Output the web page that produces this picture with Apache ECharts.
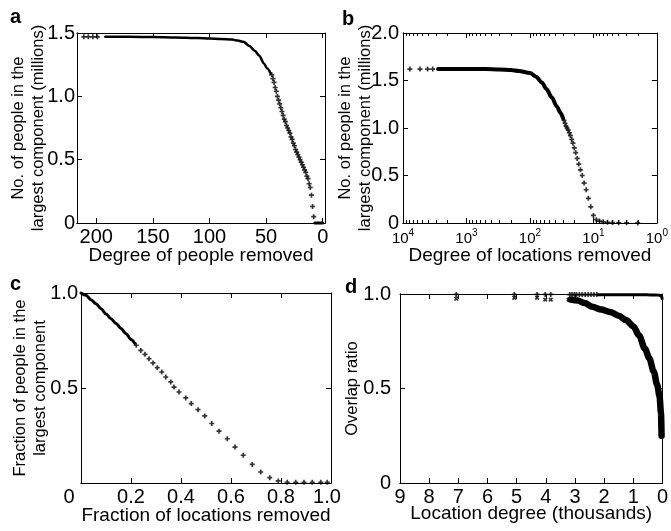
<!DOCTYPE html>
<html>
<head>
<meta charset="utf-8">
<title>Largest component</title>
<script src="https://cdn.jsdelivr.net/npm/echarts@6/dist/echarts.min.js"></script>
<style>
html, body { margin: 0; padding: 0; background: #fff; }
#chart { width: 671px; height: 531px; }
</style>
</head>
<body>
<div id="chart"></div>
<script>
// a: degree of people removed vs people in largest component (millions)
var aDenseX = [192, 170, 150, 130, 110, 100, 90, 80, 75, 70, 65, 60, 56, 52, 49, 46];
var aDenseY = [1.47, 1.47, 1.468, 1.465, 1.46, 1.457, 1.453, 1.448, 1.44, 1.43, 1.40, 1.36, 1.32, 1.26, 1.22, 1.18];
var aSparseX = [211, 207, 203, 199, 45, 44, 43, 42, 41, 40, 39, 38, 37, 36, 35, 34, 33, 32, 31, 30, 29, 28, 27, 26, 25, 24, 23, 22, 21, 20, 19, 18, 17, 16, 15, 14, 13, 12, 11, 10, 9, 8];
var aSparseY = [1.47, 1.47, 1.47, 1.47, 1.17, 1.14, 1.11, 1.07, 1.04, 1.00, 0.97, 0.94, 0.91, 0.88, 0.85, 0.82, 0.80, 0.77, 0.75, 0.73, 0.71, 0.68, 0.66, 0.63, 0.61, 0.58, 0.56, 0.54, 0.52, 0.50, 0.48, 0.46, 0.44, 0.42, 0.40, 0.37, 0.35, 0.31, 0.28, 0.22, 0.13, 0.05];
var aZeroX = [7, 5, 3, 1, 0];
var aZeroY = [0, 0, 0, 0, 0];

// b: degree of locations removed (log) vs people in largest component (millions)
var bDenseX = [2800, 2000, 1000, 500, 300, 200, 150, 100, 80, 65, 55, 45, 38, 33, 30];
var bDenseY = [1.62, 1.62, 1.62, 1.62, 1.615, 1.61, 1.60, 1.58, 1.54, 1.48, 1.41, 1.32, 1.23, 1.16, 1.10];
var bSparseX = [7800, 5400, 4100, 3400, 29, 28, 27, 26, 25, 24, 23, 22, 21, 20, 19, 18, 17, 16, 15, 14, 13, 12, 11, 10, 9, 8, 7, 6, 5, 4, 3, 2];
var bSparseY = [1.62, 1.62, 1.62, 1.62, 1.08, 1.05, 1.02, 1.00, 0.98, 0.95, 0.92, 0.88, 0.84, 0.79, 0.74, 0.68, 0.62, 0.56, 0.50, 0.42, 0.35, 0.26, 0.17, 0.08, 0.035, 0.02, 0.012, 0.008, 0.005, 0.003, 0.002, 0.001];

// c: fraction of locations removed vs fraction of people in largest component
var cDenseX = [0, 0.02, 0.04, 0.06, 0.08, 0.10, 0.12, 0.14, 0.16, 0.18, 0.20, 0.215];
var cDenseY = [1.0, 0.988, 0.965, 0.944, 0.917, 0.89, 0.865, 0.84, 0.813, 0.786, 0.755, 0.735];
var cSparseX = [0.221, 0.239, 0.256, 0.272, 0.288, 0.305, 0.323, 0.339, 0.359, 0.372, 0.392, 0.419, 0.441, 0.468, 0.495, 0.523, 0.552, 0.585, 0.616, 0.649, 0.685, 0.719, 0.755, 0.789, 0.825, 0.859, 0.892, 0.925, 0.959, 0.985];
var cSparseY = [0.725, 0.698, 0.677, 0.654, 0.632, 0.607, 0.584, 0.558, 0.532, 0.505, 0.479, 0.448, 0.418, 0.386, 0.353, 0.313, 0.273, 0.233, 0.189, 0.146, 0.098, 0.058, 0.028, 0.011, 0.004, 0.004, 0.004, 0.004, 0.004, 0.004];

// d: location degree (thousands) vs overlap ratio, two series
var dTopDenseX = [2.2, 1.8, 1.4, 1.0, 0.7, 0.4, 0.2, 0.08, 0.03, 0.01];
var dTopDenseY = [0.996, 0.996, 0.996, 0.996, 0.996, 0.995, 0.995, 0.993, 0.988, 0.975];
var dTopSparseX = [7.07, 5.08, 4.30, 4.02, 3.83, 3.18, 3.10, 3.02, 2.95, 2.85, 2.75, 2.65, 2.55, 2.45, 2.35, 2.25];
var dTopSparseY = [0.998, 0.998, 0.998, 0.998, 0.998, 0.997, 0.997, 0.997, 0.997, 0.997, 0.997, 0.997, 0.997, 0.997, 0.997, 0.997];
var dLowDenseX = [3.15, 2.9, 2.67, 2.4, 2.1, 1.8, 1.5, 1.25, 1.0, 0.8, 0.6, 0.45, 0.3, 0.18, 0.1, 0.05, 0.03];
var dLowDenseY = [0.97, 0.965, 0.952, 0.932, 0.918, 0.905, 0.885, 0.862, 0.83, 0.78, 0.71, 0.66, 0.59, 0.52, 0.46, 0.37, 0.25];
var dLowSparseX = [7.07, 5.08, 4.30, 4.02, 3.83, 3.22];
var dLowSparseY = [0.975, 0.98, 0.98, 0.97, 0.97, 0.97];

// tick values
var aXTicks = [0, 50, 100, 150, 200];
var bMinorTicks = [2, 3, 4, 5, 6, 7, 8, 9, 20, 30, 40, 50, 60, 70, 80, 90, 200, 300, 400, 500, 600, 700, 800, 900, 2000, 3000, 4000, 5000, 6000, 7000, 8000, 9000];

var font = 'Liberation Sans';
var plus = 'path://M2,0H4V2H6V4H4V6H2V4H0V2H2Z';

function pairs(xs, ys) {
	return xs.map(function (x, i) { return [x, ys[i]]; });
}

function axis(gridIndex, position, extra) {
	var a = {
		gridIndex: gridIndex,
		position: position,
		nameMoveOverlap: false,
		axisLine: { show: true, onZero: false, lineStyle: { color: '#000', width: 1 } },
		axisTick: { show: true, inside: true, length: 5, lineStyle: { color: '#000', width: 1 } },
		axisLabel: { show: false, color: '#000', fontFamily: font, fontSize: 20, margin: 4 },
		splitLine: { show: false },
		nameTextStyle: { color: '#000', fontFamily: font, fontSize: 19 }
	};
	for (var k in extra) {
		if (typeof extra[k] === 'object' && a[k] && !Array.isArray(extra[k])) {
			a[k] = Object.assign({}, a[k], extra[k]);
		} else {
			a[k] = extra[k];
		}
	}
	return a;
}

var xAxes = [], yAxes = [];
function addX(cfg) { xAxes.push(cfg); return xAxes.length - 1; }
function addY(cfg) { yAxes.push(cfg); return yAxes.length - 1; }

function oneDecimal(v) {
	return v === 0 ? '0' : v.toFixed(1);
}

var yName = { color: '#000', fontFamily: font, fontSize: 16.5, lineHeight: 20 };
var noTick = { show: false };

// panel a axes (labels on one axis, ticks drawn by plain axes)
var aScaleX = { type: 'value', min: -2, max: 217, inverse: true };
var aScaleY = { type: 'value', min: 0, max: 1.5, interval: 0.5 };
var ax = addX(axis(0, 'bottom', Object.assign({}, aScaleX, {
	axisTick: noTick, axisLabel: { show: true, customValues: aXTicks },
	name: 'Degree of people removed', nameLocation: 'middle', nameGap: 23 })));
addX(axis(0, 'bottom', Object.assign({}, aScaleX, { axisTick: { customValues: aXTicks } })));
addX(axis(0, 'top', Object.assign({}, aScaleX, { axisTick: { customValues: aXTicks } })));
var ay = addY(axis(0, 'left', Object.assign({}, aScaleY, {
	axisTick: noTick, axisLabel: { show: true, formatter: oneDecimal, margin: 2 },
	name: 'No. of people in the\nlargest component (millions)', nameLocation: 'middle', nameGap: 29, nameTextStyle: yName })));
addY(axis(0, 'left', aScaleY));
addY(axis(0, 'right', aScaleY));

// panel b axes
var bScaleX = { type: 'log', logBase: 10, min: 1, max: 10000, inverse: true };
var bMinorX = { type: 'value', min: 0, max: 4, inverse: true, axisLine: { show: false },
	axisTick: { length: 3, customValues: bMinorTicks.map(function (v) { return Math.log10(v); }) } };
var bScaleY = { type: 'value', min: 0, max: 2, interval: 0.5 };
var bx = addX(axis(1, 'bottom', Object.assign({}, bScaleX, {
	axisTick: noTick,
	axisLabel: { show: true, fontSize: 15, margin: 5, lineHeight: 22,
		formatter: function (v) { return '10{s|' + Math.round(Math.log10(v)) + '}'; },
		rich: { s: { fontSize: 10, fontFamily: font, color: '#000', verticalAlign: 'top', lineHeight: 12 } } },
	name: 'Degree of locations removed', nameLocation: 'middle', nameGap: 23 })));
addX(axis(1, 'bottom', bScaleX));
addX(axis(1, 'top', bScaleX));
addX(axis(1, 'bottom', bMinorX));
addX(axis(1, 'top', bMinorX));
var by = addY(axis(1, 'left', Object.assign({}, bScaleY, {
	axisTick: noTick, axisLabel: { show: true, formatter: oneDecimal, margin: 4 },
	name: 'No. of people in the\nlargest component (millions)', nameLocation: 'middle', nameGap: 28, nameTextStyle: yName })));
addY(axis(1, 'left', bScaleY));
addY(axis(1, 'right', bScaleY));

// panel c axes
var cScaleX = { type: 'value', min: 0, max: 1, interval: 0.2 };
var cScaleY = { type: 'value', min: 0, max: 1, interval: 0.5 };
var cx = addX(axis(2, 'bottom', Object.assign({}, cScaleX, {
	axisTick: noTick,
	axisLabel: { show: true,
		formatter: function (v) {
			if (v === 0) return '{l|0}';
			if (Math.abs(v - 1) < 1e-9) return '{r|1.0}';
			return v.toFixed(1);
		},
		rich: { l: { fontSize: 20, fontFamily: font, color: '#000', padding: [0, 24, 0, 0] },
			r: { fontSize: 20, fontFamily: font, color: '#000', padding: [0, 8, 0, 0] } } },
	name: 'Fraction of locations removed', nameLocation: 'middle', nameGap: 23 })));
addX(axis(2, 'bottom', cScaleX));
addX(axis(2, 'top', cScaleX));
var cy = addY(axis(2, 'left', Object.assign({}, cScaleY, {
	axisTick: noTick,
	axisLabel: { show: true, margin: 3, formatter: function (v) { return v === 0 ? '' : v.toFixed(1); } },
	name: 'Fraction of people in the\nlargest component', nameLocation: 'middle', nameGap: 31, nameTextStyle: yName })));
addY(axis(2, 'left', cScaleY));
addY(axis(2, 'right', cScaleY));

// panel d axes
var dScaleX = { type: 'value', min: 0, max: 9, interval: 1, inverse: true };
var dScaleY = { type: 'value', min: 0, max: 1, interval: 0.5 };
var dx = addX(axis(3, 'bottom', Object.assign({}, dScaleX, {
	axisTick: noTick, axisLabel: { show: true },
	name: 'Location degree (thousands)', nameLocation: 'middle', nameGap: 21 })));
addX(axis(3, 'bottom', dScaleX));
addX(axis(3, 'top', dScaleX));
var dy = addY(axis(3, 'left', Object.assign({}, dScaleY, {
	axisTick: noTick, axisLabel: { show: true, formatter: oneDecimal, margin: 9 },
	name: 'Overlap ratio', nameLocation: 'middle', nameGap: 38, nameTextStyle: yName })));
addY(axis(3, 'left', dScaleY));
addY(axis(3, 'right', dScaleY));

function dense(xi, yi, xs, ys, w) {
	return {
		type: 'line', xAxisIndex: xi, yAxisIndex: yi, data: pairs(xs, ys),
		showSymbol: false, symbol: 'none', smooth: 0.3, smoothMonotone: 'x', clip: false, silent: true,
		lineStyle: { color: '#000', width: w, cap: 'round', join: 'round' }
	};
}

function marks(xi, yi, xs, ys, rot) {
	return {
		type: 'scatter', xAxisIndex: xi, yAxisIndex: yi, data: pairs(xs, ys),
		symbol: plus, symbolSize: 5, symbolRotate: rot || 0, clip: false, silent: true,
		itemStyle: { color: '#000' }
	};
}

var chart = echarts.init(document.getElementById('chart'));

var option = {
	animation: false,
	textStyle: { fontFamily: font },
	grid: [
		{ left: 77, top: 33, width: 248, height: 190 },
		{ left: 403, top: 33, width: 257, height: 190 },
		{ left: 81, top: 293, width: 250, height: 190 },
		{ left: 400, top: 294, width: 268, height: 189 }
	],
	xAxis: xAxes,
	yAxis: yAxes,
	graphic: [
		{ type: 'text', left: 10, top: 7, style: { text: 'a', font: 'bold 20px "Liberation Sans"', fill: '#000' } },
		{ type: 'text', left: 342, top: 9, style: { text: 'b', font: 'bold 20px "Liberation Sans"', fill: '#000' } },
		{ type: 'text', left: 10, top: 274, style: { text: 'c', font: 'bold 20px "Liberation Sans"', fill: '#000' } },
		{ type: 'text', left: 345, top: 277, style: { text: 'd', font: 'bold 20px "Liberation Sans"', fill: '#000' } }
	],
	series: [
		dense(ax, ay, aDenseX, aDenseY, 2.5),
		marks(ax, ay, aSparseX, aSparseY),
		dense(ax, ay, aZeroX, aZeroY, 3),
		dense(bx, by, bDenseX, bDenseY, 4),
		marks(bx, by, bSparseX, bSparseY),
		dense(cx, cy, cDenseX, cDenseY, 3),
		marks(cx, cy, cSparseX, cSparseY),
		dense(dx, dy, dTopDenseX, dTopDenseY, 3),
		marks(dx, dy, dTopSparseX, dTopSparseY),
		dense(dx, dy, dLowDenseX, dLowDenseY, 6.5),
		marks(dx, dy, dLowSparseX, dLowSparseY, 45)
	]
};

chart.setOption(option);
</script>
</body>
</html>
